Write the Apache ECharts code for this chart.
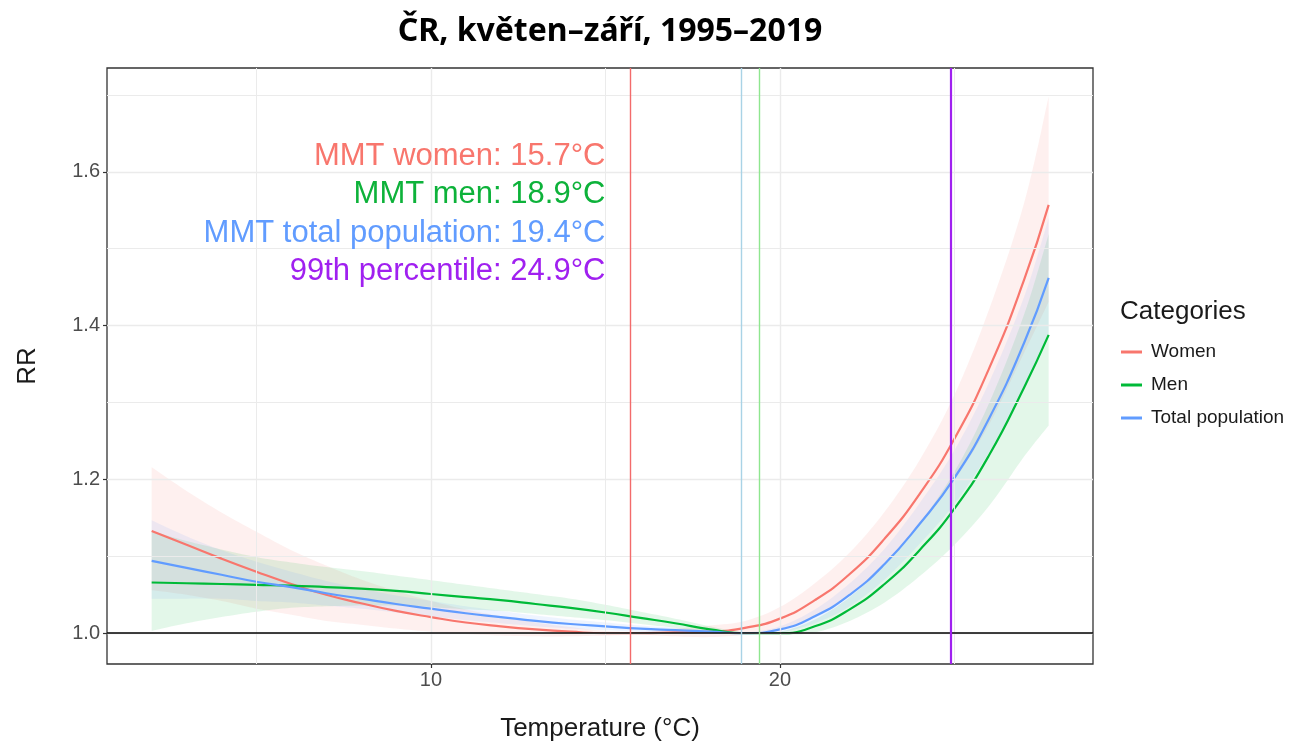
<!DOCTYPE html>
<html>
<head>
<meta charset="utf-8">
<title>ČR, květen–září, 1995–2019</title>
<script src="https://cdn.jsdelivr.net/npm/echarts@6/dist/echarts.min.js"></script>
<style>
  html, body { margin: 0; padding: 0; background: #ffffff; }
  #chart { width: 1309px; height: 747px; }
</style>
</head>
<body>
<div id="chart"></div>
<script>
// Temperature grid (°C) at which the exposure–response curves are evaluated
const temps = [2, 3, 4, 5, 6, 7, 8, 9, 10, 11, 12, 13, 14, 15, 16, 17, 18, 19, 20, 21, 22, 23, 24, 25, 26, 27, 27.7];

// Relative risk – women
const womenRR    = [1.133, 1.115, 1.097, 1.080, 1.064, 1.050, 1.039, 1.029, 1.021, 1.014, 1.009, 1.005, 1.002, 1.000, 1.000, 1.001, 1.002, 1.007, 1.019, 1.043, 1.077, 1.123, 1.181, 1.253, 1.345, 1.460, 1.557];
const womenLow   = [1.056, 1.050, 1.042, 1.032, 1.024, 1.016, 1.011, 1.006, 1.002, 0.999, 0.997, 0.996, 0.996, 0.997, 0.998, 0.996, 0.995, 0.998, 1.005, 1.022, 1.050, 1.090, 1.140, 1.199, 1.272, 1.365, 1.431];
const womenHigh  = [1.216, 1.185, 1.157, 1.132, 1.108, 1.088, 1.070, 1.055, 1.042, 1.031, 1.022, 1.014, 1.008, 1.003, 1.002, 1.006, 1.010, 1.016, 1.034, 1.065, 1.105, 1.158, 1.225, 1.310, 1.422, 1.560, 1.698];

// Relative risk – men
const menRR      = [1.066, 1.065, 1.064, 1.063, 1.062, 1.060, 1.058, 1.055, 1.051, 1.047, 1.043, 1.038, 1.033, 1.027, 1.020, 1.013, 1.005, 1.000, 1.000, 1.009, 1.031, 1.064, 1.108, 1.162, 1.232, 1.320, 1.388];
const menLow     = [1.003, 1.013, 1.021, 1.028, 1.033, 1.035, 1.036, 1.036, 1.034, 1.031, 1.029, 1.025, 1.021, 1.017, 1.012, 1.007, 1.001, 0.999, 0.998, 1.001, 1.016, 1.040, 1.074, 1.115, 1.166, 1.230, 1.270];
const menHigh    = [1.133, 1.120, 1.109, 1.099, 1.092, 1.086, 1.081, 1.075, 1.069, 1.063, 1.057, 1.051, 1.045, 1.037, 1.028, 1.019, 1.009, 1.001, 1.002, 1.018, 1.047, 1.089, 1.143, 1.210, 1.300, 1.415, 1.519];

// Relative risk – total population
const totalRR    = [1.094, 1.085, 1.076, 1.067, 1.060, 1.052, 1.045, 1.038, 1.032, 1.026, 1.021, 1.016, 1.012, 1.009, 1.006, 1.004, 1.002, 1.000, 1.005, 1.022, 1.050, 1.090, 1.142, 1.202, 1.280, 1.378, 1.462];
const totalLow   = [1.045, 1.045, 1.045, 1.042, 1.040, 1.036, 1.032, 1.027, 1.022, 1.017, 1.013, 1.009, 1.006, 1.004, 1.002, 1.001, 1.000, 0.999, 1.001, 1.013, 1.035, 1.070, 1.116, 1.168, 1.236, 1.320, 1.390];
const totalHigh  = [1.147, 1.126, 1.108, 1.093, 1.080, 1.068, 1.058, 1.049, 1.042, 1.035, 1.029, 1.023, 1.018, 1.014, 1.010, 1.007, 1.004, 1.001, 1.009, 1.031, 1.065, 1.110, 1.169, 1.238, 1.327, 1.438, 1.540];

// Reference lines: minimum mortality temperatures and 99th percentile
const refLineValues = [15.7, 18.9, 19.4, 24.9];
const refLineColors = ['#F36B6B', '#A9D3E6', '#8FE68F', '#A020F0'];
const refLineWidths = [1.4, 1.4, 1.4, 2.2];

// Annotation texts, anchored at their right end
const noteTexts  = ['MMT women: 15.7°C', 'MMT men: 18.9°C', 'MMT total population: 19.4°C', '99th percentile: 24.9°C'];
const noteX      = [15, 15, 15, 15];
const noteY      = [1.62, 1.57, 1.52, 1.47];
const noteColors = ['#F8766D', '#0DB23A', '#619CFF', '#A020F0'];

// Axis breaks
const xTicks      = [10, 20];
const xMinorGrid  = [5, 15, 25];
const yTicks      = [1.0, 1.2, 1.4, 1.6];
const yMinorGrid  = [1.1, 1.3, 1.5, 1.7];

const seriesNames  = ['Women', 'Men', 'Total population'];
const seriesColors = ['#F8766D', '#00BA38', '#619CFF'];

const pairs = (xs, ys) => xs.map((x, i) => [x, ys[i]]);

// Smooth outline (Catmull-Rom) through pixel points, sampled for drawing
function smoothOutline(pts) {
  const out = [pts[0]];
  const steps = 8;
  for (let i = 0; i < pts.length - 1; i++) {
    const p0 = pts[Math.max(i - 1, 0)];
    const p1 = pts[i];
    const p2 = pts[i + 1];
    const p3 = pts[Math.min(i + 2, pts.length - 1)];
    const c1 = [p1[0] + (p2[0] - p0[0]) / 6, p1[1] + (p2[1] - p0[1]) / 6];
    const c2 = [p2[0] - (p3[0] - p1[0]) / 6, p2[1] - (p3[1] - p1[1]) / 6];
    for (let s = 1; s <= steps; s++) {
      const t = s / steps, u = 1 - t;
      const a = u * u * u, b = 3 * u * u * t, c = 3 * u * t * t, e = t * t * t;
      out.push([
        a * p1[0] + b * c1[0] + c * c2[0] + e * p2[0],
        a * p1[1] + b * c1[1] + c * c2[1] + e * p2[1]
      ]);
    }
  }
  return out;
}

function bandSeries(name, low, high, color) {
  return {
    type: 'custom',
    name: name + ' band',
    silent: true,
    z: 2,
    data: [[temps[0], low[0]]],
    renderItem: function (params, api) {
      const up = smoothOutline(temps.map((t, i) => api.coord([t, high[i]])));
      const dn = smoothOutline(temps.map((t, i) => api.coord([t, low[i]]))).reverse();
      return {
        type: 'polygon',
        shape: { points: up.concat(dn) },
        style: { fill: color, opacity: 0.11 }
      };
    }
  };
}

function curveSeries(name, values, color) {
  return {
    type: 'line',
    name: name,
    data: pairs(temps, values),
    smooth: 0.5,
    showSymbol: false,
    symbol: 'none',
    z: 4,
    lineStyle: { color: color, width: 2.2 },
    itemStyle: { color: color }
  };
}

const gridColor = '#EBEBEB';
const gridLines = []
  .concat(xTicks.map(v => ({ xAxis: v, lineStyle: { color: gridColor, width: 1.4, type: 'solid' } })))
  .concat(xMinorGrid.map(v => ({ xAxis: v, lineStyle: { color: gridColor, width: 1, type: 'solid' } })))
  .concat(yTicks.map(v => ({ yAxis: v, lineStyle: { color: gridColor, width: 1.4, type: 'solid' } })))
  .concat(yMinorGrid.map(v => ({ yAxis: v, lineStyle: { color: gridColor, width: 1, type: 'solid' } })));

const refLines = refLineValues.map((v, i) => ({
  xAxis: v,
  lineStyle: { color: refLineColors[i], width: refLineWidths[i], type: 'solid' }
}));

const textFont = "'Liberation Sans', Arial, sans-serif";

const option = {
  animation: false,
  backgroundColor: '#ffffff',
  title: [
    {
      text: 'ČR, květen–září, 1995–2019',
      left: 605,
      top: 11,
      textAlign: 'center',
      textStyle: { fontFamily: "'Noto Sans', sans-serif", fontWeight: 'bold', fontSize: 32, color: '#000' }
    },
    {
      text: 'Categories',
      left: 1115,
      top: 294,
      textStyle: { fontFamily: textFont, fontWeight: 'normal', fontSize: 26, color: '#1a1a1a' }
    }
  ],
  legend: {
    data: seriesNames,
    orient: 'vertical',
    left: 1116,
    top: 337,
    icon: 'rect',
    itemWidth: 21,
    itemHeight: 3,
    itemGap: 13,
    textStyle: { fontFamily: textFont, fontSize: 19, color: '#1a1a1a', lineHeight: 20, padding: [0, 0, 0, 4] },
    selectedMode: false
  },
  grid: {
    left: 107, right: 216, top: 68, bottom: 81,
    show: true,
    borderColor: '#333333',
    borderWidth: 1.3,
    backgroundColor: 'transparent',
    containLabel: false
  },
  xAxis: {
    type: 'value',
    min: 0.72,
    max: 28.97,
    name: 'Temperature (°C)',
    nameLocation: 'middle',
    nameGap: 52,
    nameTextStyle: { fontFamily: textFont, fontSize: 26, color: '#1a1a1a' },
    axisLine: { show: false },
    axisTick: { show: true, customValues: xTicks, length: 4, lineStyle: { color: '#333333', width: 1.2 } },
    axisLabel: { customValues: xTicks, margin: 6, fontFamily: textFont, fontSize: 20, color: '#4D4D4D' },
    splitLine: { show: false }
  },
  yAxis: {
    type: 'value',
    min: 0.96,
    max: 1.735,
    name: 'RR',
    nameLocation: 'middle',
    nameGap: 66,
    nameRotate: 90,
    nameTextStyle: { fontFamily: textFont, fontSize: 26, color: '#1a1a1a' },
    axisLine: { show: false },
    axisTick: { show: true, customValues: yTicks, length: 4, lineStyle: { color: '#333333', width: 1.2 } },
    axisLabel: {
      customValues: yTicks, margin: 7, fontFamily: textFont, fontSize: 20, color: '#4D4D4D',
      formatter: v => v.toFixed(1)
    },
    splitLine: { show: false }
  },
  series: [
    {
      // panel grid lines
      type: 'scatter',
      name: 'grid',
      silent: true,
      z: 1,
      data: [[temps[0], 1]],
      symbolSize: 0,
      markLine: {
        silent: true,
        symbol: 'none',
        label: { show: false },
        animation: false,
        data: gridLines
      }
    },
    bandSeries('Women', womenLow, womenHigh, seriesColors[0]),
    bandSeries('Men', menLow, menHigh, seriesColors[1]),
    bandSeries('Total population', totalLow, totalHigh, seriesColors[2]),
    {
      // RR = 1 reference line
      type: 'scatter',
      name: 'baseline',
      silent: true,
      z: 3,
      data: [[temps[0], 1]],
      symbolSize: 0,
      markLine: {
        silent: true,
        symbol: 'none',
        label: { show: false },
        animation: false,
        data: [{ yAxis: 1, lineStyle: { color: '#000000', width: 1.5, type: 'solid' } }]
      }
    },
    curveSeries(seriesNames[0], womenRR, seriesColors[0]),
    curveSeries(seriesNames[1], menRR, seriesColors[1]),
    curveSeries(seriesNames[2], totalRR, seriesColors[2]),
    {
      type: 'scatter',
      name: 'reference lines',
      silent: true,
      z: 5,
      data: [[temps[0], 1]],
      symbolSize: 0,
      markLine: {
        silent: true,
        symbol: 'none',
        label: { show: false },
        animation: false,
        data: refLines
      }
    },
    {
      type: 'scatter',
      name: 'notes',
      silent: true,
      z: 6,
      symbolSize: 0,
      itemStyle: { opacity: 1 },
      data: noteTexts.map((t, i) => ({
        value: [noteX[i], noteY[i]],
        label: {
          show: true,
          position: 'left',
          distance: 0,
          formatter: t,
          align: 'right',
          verticalAlign: 'middle',
          fontFamily: textFont,
          fontSize: 31,
          color: noteColors[i],
          opacity: 1
        }
      }))
    }
  ]
};

const chart = echarts.init(document.getElementById('chart'), null, { renderer: 'canvas' });
chart.setOption(option);
</script>
</body>
</html>
